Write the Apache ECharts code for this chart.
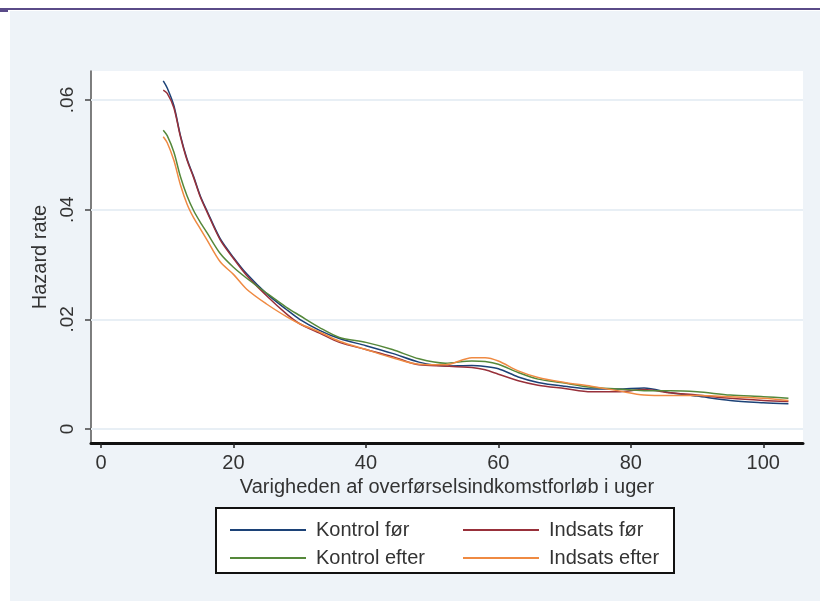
<!DOCTYPE html>
<html>
<head>
<meta charset="utf-8">
<title>Hazard rate</title>
<script src="https://cdn.jsdelivr.net/npm/echarts@6/dist/echarts.min.js"></script>
<style>
  html, body { margin: 0; padding: 0; background: #ffffff; }
  #chart { width: 820px; height: 601px; }
</style>
</head>
<body>
<div id="chart"></div>
<script>
const weeks = [9.4, 10, 11, 12, 13, 14, 15, 16, 18, 20, 22, 25, 28, 30, 33, 36, 40, 44, 48, 52, 56, 58, 60, 63, 66, 70, 74, 78, 82, 86, 90, 95, 100, 103.8]

const kontrolFoer = [0.0635, 0.0622, 0.0590, 0.0535, 0.0492, 0.0460, 0.0425, 0.0398, 0.0347, 0.0313, 0.0283, 0.0247, 0.0218, 0.0200, 0.0180, 0.0165, 0.0152, 0.0138, 0.0122, 0.0115, 0.0116, 0.0114, 0.0110, 0.0095, 0.0085, 0.0078, 0.0073, 0.0073, 0.0075, 0.0066, 0.0060, 0.0052, 0.0048, 0.0046]
const indsatsFoer = [0.0618, 0.0612, 0.0586, 0.0533, 0.0490, 0.0458, 0.0423, 0.0396, 0.0345, 0.0311, 0.0280, 0.0243, 0.0210, 0.0192, 0.0175, 0.0158, 0.0145, 0.0132, 0.0117, 0.0115, 0.0112, 0.0108, 0.0100, 0.0088, 0.0080, 0.0074, 0.0068, 0.0068, 0.0072, 0.0066, 0.0062, 0.0056, 0.0052, 0.0050]
const kontrolEfter = [0.0545, 0.0535, 0.0505, 0.0460, 0.0425, 0.0398, 0.0377, 0.0358, 0.0320, 0.0295, 0.0275, 0.0248, 0.0222, 0.0207, 0.0185, 0.0167, 0.0158, 0.0145, 0.0128, 0.0120, 0.0124, 0.0123, 0.0118, 0.0103, 0.0091, 0.0084, 0.0076, 0.0073, 0.0070, 0.0070, 0.0068, 0.0062, 0.0059, 0.0056]
const indsatsEfter = [0.0533, 0.0522, 0.0490, 0.0445, 0.0410, 0.0385, 0.0365, 0.0345, 0.0305, 0.0282, 0.0255, 0.0228, 0.0205, 0.0192, 0.0177, 0.0160, 0.0145, 0.0130, 0.0118, 0.0117, 0.0130, 0.0130, 0.0124, 0.0106, 0.0094, 0.0085, 0.0078, 0.0070, 0.0062, 0.0061, 0.0061, 0.0059, 0.0056, 0.0052]

const xTicks = [0, 20, 40, 60, 80, 100]
const yTicks = [0, 0.02, 0.04, 0.06]
const yTickLabels = ['0', '.02', '.04', '.06']

const SERIES_COLORS = {
  kontrolFoer: '#1c4277',
  indsatsFoer: '#98303a',
  kontrolEfter: '#55883a',
  indsatsEfter: '#ef8a42',
}

const FONT = 'Liberation Sans, Arial, sans-serif'
const TEXT_COLOR = '#333333'

const pairs = (values) => weeks.map((w, i) => [w, values[i]])

const makeSeries = (name, values, color) => ({
  name,
  type: 'line',
  data: pairs(values),
  symbol: 'none',
  smooth: 0.3,
  lineStyle: { color, width: 1.5 },
  itemStyle: { color },
  z: 3,
})

const chart = echarts.init(document.getElementById('chart'), null, { renderer: 'canvas' })

const series = [
  makeSeries('Kontrol før', kontrolFoer, SERIES_COLORS.kontrolFoer),
  makeSeries('Indsats før', indsatsFoer, SERIES_COLORS.indsatsFoer),
  makeSeries('Kontrol efter', kontrolEfter, SERIES_COLORS.kontrolEfter),
  makeSeries('Indsats efter', indsatsEfter, SERIES_COLORS.indsatsEfter),
]

// light horizontal grid lines at the y ticks
series[0].markLine = {
  silent: true,
  symbol: 'none',
  z: 1,
  label: { show: false },
  lineStyle: { color: '#e8eff5', width: 2, type: 'solid' },
  data: yTicks.map((v) => ({ yAxis: v })),
}

const legendBase = {
  orient: 'vertical',
  top: 515,
  icon: 'rect',
  itemWidth: 76,
  itemHeight: 2,
  itemGap: 8,
  selectedMode: false,
  textStyle: { color: TEXT_COLOR, fontSize: 20, lineHeight: 20, fontFamily: FONT, padding: [0, 0, 0, 5] },
}

const option = {
  backgroundColor: '#ffffff',
  animation: false,
  graphic: [
    { type: 'rect', z: -10, shape: { x: 10, y: 11, width: 810, height: 590 }, style: { fill: '#eef3f8' } },
    { type: 'rect', z: -9, shape: { x: 0, y: 8, width: 820, height: 2 }, style: { fill: '#5a4b88' } },
    { type: 'rect', z: -9, shape: { x: 0, y: 9, width: 8, height: 3 }, style: { fill: '#5a4b88' } },
    { type: 'rect', z: 1, shape: { x: 216, y: 508, width: 458, height: 65 }, style: { fill: '#ffffff', stroke: '#111111', lineWidth: 2 } },
  ],
  legend: [
    { ...legendBase, left: 225, data: ['Kontrol før', 'Kontrol efter'] },
    { ...legendBase, left: 458, data: ['Indsats før', 'Indsats efter'] },
  ],
  grid: {
    left: 91,
    right: 17,
    top: 71,
    bottom: 158,
    show: true,
    backgroundColor: '#ffffff',
    borderWidth: 0,
  },
  xAxis: {
    type: 'value',
    min: -1.51,
    max: 106.0,
    name: 'Varigheden af overførselsindkomstforløb i uger',
    nameLocation: 'middle',
    nameGap: 25,
    nameTextStyle: { color: TEXT_COLOR, fontSize: 20, fontFamily: FONT },
    axisLine: { onZero: false, lineStyle: { color: '#111111', width: 3 } },
    axisTick: { customValues: xTicks, length: 5, lineStyle: { color: '#222222', width: 1.5 } },
    axisLabel: { customValues: xTicks, color: TEXT_COLOR, fontSize: 20, fontFamily: FONT, margin: 10 },
    splitLine: { show: false },
  },
  yAxis: {
    type: 'value',
    min: -0.00255,
    max: 0.06529,
    name: 'Hazard rate',
    nameLocation: 'middle',
    nameRotate: 90,
    nameGap: 35,
    nameTextStyle: { color: TEXT_COLOR, fontSize: 20, fontFamily: FONT },
    axisLine: { show: true, onZero: false, lineStyle: { color: '#555555', width: 1.5 } },
    axisTick: { show: true, customValues: yTicks, length: 6, lineStyle: { color: '#444444', width: 1.5 } },
    axisLabel: {
      customValues: yTicks,
      rotate: 90,
      color: TEXT_COLOR,
      fontSize: 19,
      fontFamily: FONT,
      margin: 14,
      formatter: (v) => yTickLabels[yTicks.findIndex((t) => Math.abs(t - v) < 1e-9)] ?? '',
    },
    splitLine: { show: false },
  },
  series,
}

chart.setOption(option)
</script>
</body>
</html>
